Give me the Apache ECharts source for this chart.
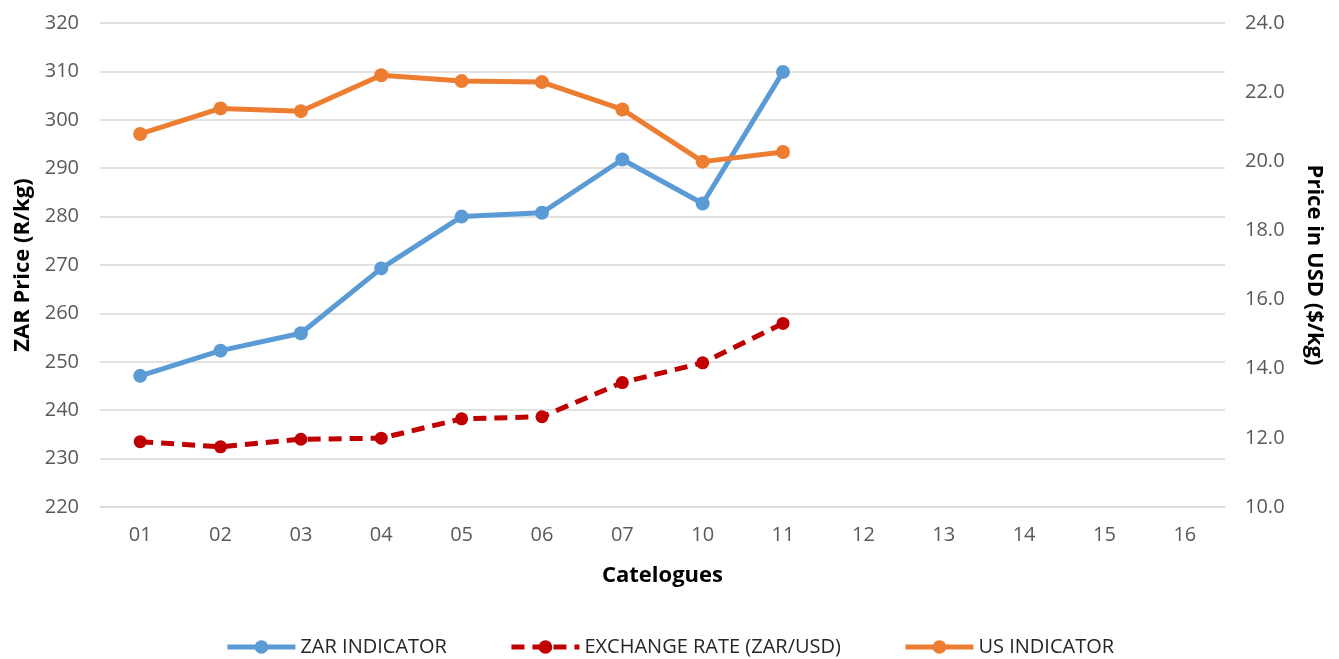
<!DOCTYPE html>
<html>
<head>
<meta charset="utf-8">
<title>ZAR / USD indicator</title>
<script src="https://cdn.jsdelivr.net/npm/echarts@6/dist/echarts.min.js"></script>
<style>
  html, body { margin: 0; padding: 0; background: #fff; }
  #myChart { width: 1339px; height: 659px; }
</style>
</head>
<body>
<div id="myChart"></div>
<script>
// categories
var categories = ['01', '02', '03', '04', '05', '06', '07', '10', '11', '12', '13', '14', '15', '16']
// left axis, R/kg
var zarIndicator = [247.1, 252.3, 255.9, 269.3, 280.0, 280.8, 291.8, 282.7, 309.9, null, null, null, null, null]
// right axis
var exchangeRate = [11.89, 11.74, 11.96, 11.99, 12.55, 12.61, 13.60, 14.17, 15.31, null, null, null, null, null]
var usIndicator = [20.79, 21.53, 21.45, 22.49, 22.32, 22.29, 21.50, 19.99, 20.27, null, null, null, null, null]

// colors
var blue = '#5B9BD5'
var red = '#C00000'
var orange = '#ED7D31'
var font = "'Open Sans', sans-serif"

var myChart = echarts.init(document.getElementById('myChart'))

var option = {
	backgroundColor: '#fff',
	textStyle: { fontFamily: font },
	grid: {
		left: 100,
		right: 114,
		top: 23,
		bottom: 152
	},
	legend: {
		top: 632,
		left: 'center',
		itemWidth: 68,
		itemHeight: 17,
		itemGap: 62,
		lineStyle: { width: 5 },
		textStyle: { fontFamily: font, fontSize: 20, color: '#262626' },
		data: ['ZAR INDICATOR', 'EXCHANGE RATE (ZAR/USD)', 'US INDICATOR']
	},
	xAxis: {
		type: 'category',
		data: categories,
		name: 'Catelogues',
		nameLocation: 'middle',
		nameGap: 58,
		nameTextStyle: { fontFamily: font, fontSize: 22, fontWeight: 'bold', color: '#000' },
		axisLine: { lineStyle: { color: '#d9d9d9', width: 1.5 } },
		axisTick: { show: false },
		axisLabel: { fontFamily: font, fontSize: 20, color: '#595959', margin: 18 }
	},
	yAxis: [
		{
			type: 'value',
			min: 220,
			max: 320,
			interval: 10,
			name: 'ZAR Price (R/kg)',
			nameLocation: 'middle',
			nameRotate: 90,
			nameGap: 66,
			nameTextStyle: { fontFamily: font, fontSize: 22, fontWeight: 'bold', color: '#000' },
			axisLine: { show: false },
			axisTick: { show: false },
			axisLabel: { fontFamily: font, fontSize: 20, color: '#595959', margin: 21 },
			splitLine: { lineStyle: { color: '#d9d9d9', width: 1.5 } }
		},
		{
			type: 'value',
			min: 10,
			max: 24,
			interval: 2,
			name: 'Price in USD ($/kg)',
			nameLocation: 'middle',
			nameRotate: -90,
			nameGap: 78,
			nameTextStyle: { fontFamily: font, fontSize: 22, fontWeight: 'bold', color: '#000' },
			axisLine: { show: false },
			axisTick: { show: false },
			axisLabel: {
				fontFamily: font,
				fontSize: 20,
				color: '#595959',
				margin: 20,
				formatter: function(v) { return v.toFixed(1) }
			},
			splitLine: { show: false }
		}
	],
	series: [
		{
			name: 'ZAR INDICATOR',
			type: 'line',
			yAxisIndex: 0,
			data: zarIndicator,
			symbol: 'circle',
			symbolSize: 14,
			itemStyle: { color: blue },
			lineStyle: { color: blue, width: 5 }
		},
		{
			name: 'EXCHANGE RATE (ZAR/USD)',
			type: 'line',
			yAxisIndex: 1,
			data: exchangeRate,
			symbol: 'circle',
			symbolSize: 13,
			itemStyle: { color: red },
			lineStyle: { color: red, width: 5, type: [13, 8] }
		},
		{
			name: 'US INDICATOR',
			type: 'line',
			yAxisIndex: 1,
			data: usIndicator,
			symbol: 'circle',
			symbolSize: 14,
			itemStyle: { color: orange },
			lineStyle: { color: orange, width: 5 }
		}
	]
}

myChart.setOption(option)
</script>
</body>
</html>
